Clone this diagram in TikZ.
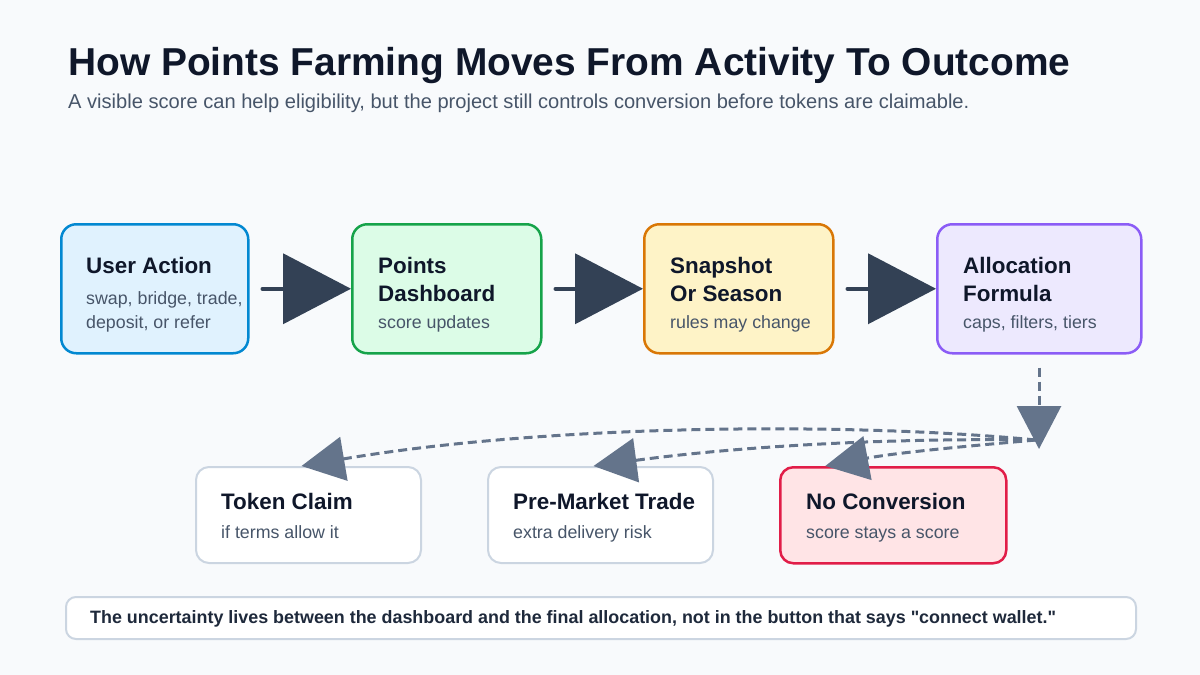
\documentclass[tikz,border=0pt]{standalone}
\usepackage{fontspec}
\setmainfont{Liberation Sans}
\newfontfamily\plainsans{Liberation Sans}
\usetikzlibrary{arrows.meta}
\definecolor{bg}{HTML}{F8FAFC}
\definecolor{ink}{HTML}{0F172A}
\definecolor{slate}{HTML}{475569}
\definecolor{noteink}{HTML}{1E293B}
\definecolor{arrowdark}{HTML}{334155}
\definecolor{arrowgray}{HTML}{64748B}
\definecolor{blueline}{HTML}{0288D1}
\definecolor{bluefill}{HTML}{E0F2FE}
\definecolor{greenline}{HTML}{16A34A}
\definecolor{greenfill}{HTML}{DCFCE7}
\definecolor{orangeline}{HTML}{D97706}
\definecolor{orangefill}{HTML}{FEF3C7}
\definecolor{purpleline}{HTML}{8B5CF6}
\definecolor{purplefill}{HTML}{EDE9FE}
\definecolor{redline}{HTML}{E11D48}
\definecolor{redfill}{HTML}{FFE4E6}
\definecolor{greyline}{HTML}{CBD5E1}
\begin{document}
\begin{tikzpicture}[x=1pt,y=-1pt,
  box/.style={draw, line width=2.5pt, rounded corners=15pt, anchor=north west, inner sep=0pt, minimum height=129pt},
  outbox/.style={draw=greyline, fill=white, line width=2pt, rounded corners=13pt, anchor=north west, inner sep=0pt, minimum height=96pt, minimum width=225pt},
  ttl/.style={anchor=base west, inner sep=0pt, font=\fontsize{22.4}{26}\selectfont\bfseries, text=ink},
  subt/.style={anchor=base west, inner sep=0pt, font=\fontsize{17.8}{21}\selectfont, text=slate},
  flow/.style={draw=arrowdark, line width=4pt, line cap=round, shorten <=13pt, -{Triangle[length=68pt,width=70pt]}},
  dasharrow/.style={draw=arrowgray, line width=3pt, dash pattern=on 9pt off 5pt, -{Triangle[length=43pt,width=44pt]}}
]
\fill[bg] (0,0) rectangle (1200,675);
\useasboundingbox (0,0) rectangle (1200,675);

% heading
\node[anchor=base west, inner sep=0pt, font=\fontsize{38.9}{44}\selectfont\bfseries, text=ink] (title) at (68,75) {How Points Farming Moves From Activity To Outcome};
\node[anchor=base west, inner sep=0pt, font=\fontsize{20.1}{23}\selectfont, text=slate] (subtitle) at (68,108) {A visible score can help eligibility, but the project still controls conversion before tokens are claimable.};

% top row
\node[box, draw=blueline, fill=bluefill, minimum width=187pt] (ua) at (60,223) {};
\node[ttl] (uat) at (86,273) {User Action};
\node[subt] (uas1) at (86,304) {swap, bridge, trade,};
\node[subt] (uas2) at (86,328) {deposit, or refer};

\node[box, draw=greenline, fill=greenfill, minimum width=189pt] (pd) at (351,223) {};
\node[ttl] (pdt1) at (378,273) {Points};
\node[ttl] (pdt2) at (378,301) {Dashboard};
\node[subt] (pds) at (378,328) {score updates};

\node[box, draw=orangeline, fill=orangefill, minimum width=189pt] (ss) at (643,223) {};
\node[ttl] (sst1) at (670,273) {Snapshot};
\node[ttl] (sst2) at (670,301) {Or Season};
\node[subt] (sss) at (670,328) {rules may change};

\node[box, draw=purpleline, fill=purplefill, minimum width=204pt] (al) at (936,223) {};
\node[ttl] (alt1) at (963,273) {Allocation};
\node[ttl] (alt2) at (963,301) {Formula};
\node[subt] (als) at (963,328) {caps, filters, tiers};

% bottom row
\node[outbox] (tc) at (195,466) {};
\node[ttl] (tct) at (221,509) {Token Claim};
\node[subt] (tcs) at (221,538) {if terms allow it};

\node[outbox] (pm) at (487,466) {};
\node[ttl] (pmt) at (513,509) {Pre-Market Trade};
\node[subt] (pms) at (513,538) {extra delivery risk};

\node[outbox, draw=redline, fill=redfill, line width=2.5pt, minimum width=226pt] (nc) at (779,466) {};
\node[ttl] (nct) at (806,509) {No Conversion};
\node[subt] (ncs) at (806,538) {score stays a score};

% note
\node[draw=greyline, fill=white, line width=2pt, rounded corners=10pt, anchor=north west, inner sep=0pt, minimum width=1070pt, minimum height=42pt] (note) at (65,596) {};
\node[anchor=base west, inner sep=0pt, font=\plainsans\fontsize{17.9}{21}\selectfont\bfseries, text=noteink] (notet) at (90,623) {The uncertainty lives between the dashboard and the final allocation, not in the button that says "connect wallet."};

% main flow
\draw[flow] (ua.east) -- (pd.west);
\draw[flow] (pd.east) -- (ss.west);
\draw[flow] (ss.east) -- (al.west);

% branches
\coordinate (vend) at (1039,449);
\coordinate (hub) at (1036,440);
\draw[dasharrow, shorten <=13pt] (al.south -| vend) -- (vend);
\draw[dasharrow] (hub) .. controls (850,422) and (550,424) .. ([xshift=-7pt]tc.north);
\draw[dasharrow] (hub) .. controls (900,438) and (750,445) .. ([xshift=-7pt]pm.north);
\draw[dasharrow] (hub) .. controls (980,445) and (900,452) .. ([xshift=-68pt]nc.north);
\end{tikzpicture}
\end{document}
